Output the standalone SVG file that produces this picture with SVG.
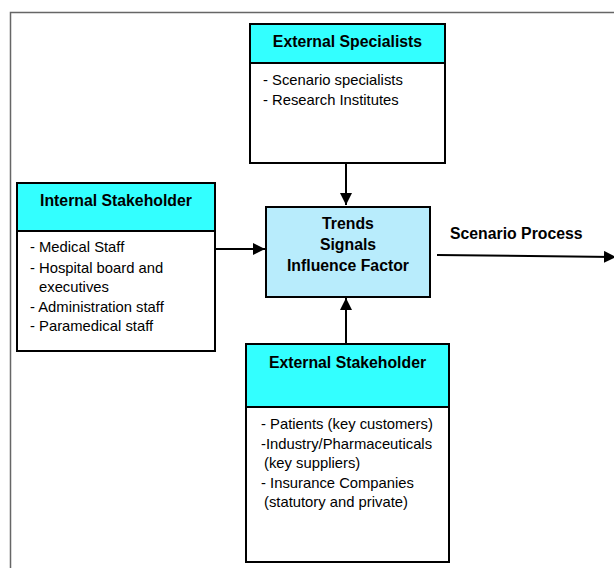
<svg xmlns="http://www.w3.org/2000/svg" width="614" height="568" viewBox="0 0 614 568">
<style>
.box{fill:#fff;stroke:#000;stroke-width:2}
.hdr{fill:#33FFFF;stroke:#000;stroke-width:2}
.ctr{fill:#B8ECFC;stroke:#000;stroke-width:2}
.t{font-family:"Liberation Sans",Arial,sans-serif;font-size:14.8px;fill:#000}
.b{font-family:"Liberation Sans",Arial,sans-serif;font-size:15.8px;font-weight:bold;fill:#000}
.c{stroke:#000;stroke-width:2;fill:none}
</style>
<defs>
<marker id="ah" viewBox="0 0 10 10" refX="10" refY="5" markerWidth="6" markerHeight="6" orient="auto" markerUnits="strokeWidth">
<path d="M0,0 L10,5 L0,10 z" fill="#000"/>
</marker>
</defs>
<rect width="614" height="568" fill="#fff"/>
<rect x="10.5" y="12.5" width="700" height="700" fill="none" stroke="#666" stroke-width="1.5"/>
<g id="connectors">
<line class="c" x1="346" y1="163" x2="346" y2="205" marker-end="url(#ah)"/>
<line class="c" x1="215" y1="249" x2="265" y2="249" marker-end="url(#ah)"/>
<line class="c" x1="346" y1="344" x2="346" y2="298" marker-end="url(#ah)"/>
<line class="c" x1="437" y1="255" x2="616" y2="257" marker-end="url(#ah)"/>
<text class="b" x="450" y="239">Scenario Process</text>
</g>
<g id="external-specialists">
<rect class="box" x="250" y="24" width="195" height="139"/>
<rect class="hdr" x="250" y="24" width="195" height="39"/>
<text class="b" x="347.5" y="47" text-anchor="middle">External Specialists</text>
<text class="t" x="263" y="85">- Scenario specialists</text>
<text class="t" x="263" y="105">- Research Institutes</text>
</g>
<g id="internal-stakeholder">
<rect class="box" x="17" y="183" width="198" height="168"/>
<rect class="hdr" x="17" y="183" width="198" height="48"/>
<text class="b" x="116" y="206" text-anchor="middle">Internal Stakeholder</text>
<text class="t" x="30" y="252">- Medical Staff</text>
<text class="t" x="30" y="273">- Hospital board and</text>
<text class="t" x="39" y="292">executives</text>
<text class="t" x="30" y="312">- Administration staff</text>
<text class="t" x="30" y="331">- Paramedical staff</text>
</g>
<g id="center">
<rect class="ctr" x="266" y="207" width="164" height="90"/>
<text class="b" x="348" y="229" text-anchor="middle">Trends</text>
<text class="b" x="348" y="250" text-anchor="middle">Signals</text>
<text class="b" x="348" y="271" text-anchor="middle">Influence Factor</text>
</g>
<g id="external-stakeholder">
<rect class="box" x="246" y="344" width="203" height="218"/>
<rect class="hdr" x="246" y="344" width="203" height="63"/>
<text class="b" x="347.5" y="368" text-anchor="middle">External Stakeholder</text>
<text class="t" x="261" y="429">- Patients (key customers)</text>
<text class="t" x="261" y="449">-Industry/Pharmaceuticals</text>
<text class="t" x="264" y="468">(key suppliers)</text>
<text class="t" x="261" y="488">- Insurance Companies</text>
<text class="t" x="264" y="507">(statutory and private)</text>
</g>
</svg>
